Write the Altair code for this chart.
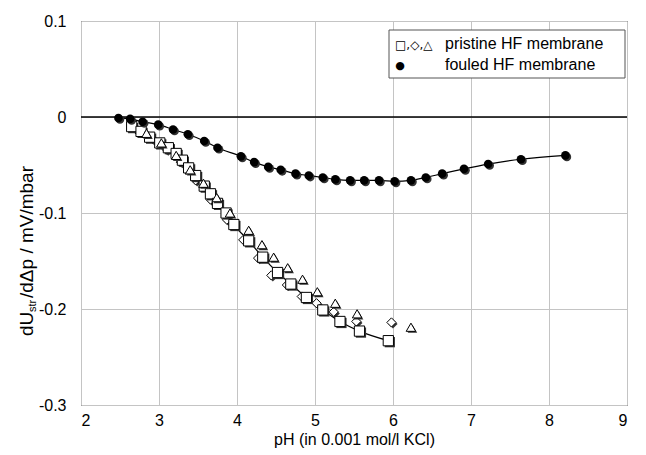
import altair as alt
import pandas as pd

# fouled HF membrane (filled circles)
fouled_ph = [2.48, 2.63, 2.79, 2.99, 3.18, 3.37, 3.58, 3.75, 4.05, 4.22, 4.40, 4.56, 4.75, 4.92,
             5.10, 5.26, 5.45, 5.63, 5.82, 6.02, 6.23, 6.42, 6.63, 6.91, 7.22, 7.64, 8.21]
fouled_val = [-0.001, -0.002, -0.005, -0.008, -0.013, -0.018, -0.025, -0.032, -0.041, -0.047,
              -0.052, -0.055, -0.059, -0.061, -0.063, -0.065, -0.066, -0.066, -0.066, -0.067,
              -0.066, -0.063, -0.059, -0.054, -0.049, -0.044, -0.040]

# pristine HF membrane, squares
sq_ph = [2.65, 2.77, 2.88, 3.01, 3.12, 3.22, 3.30, 3.38, 3.47, 3.58, 3.66, 3.75, 3.86, 3.96,
         4.15, 4.33, 4.52, 4.69, 4.89, 5.10, 5.32, 5.57, 5.94]
sq_val = [-0.010, -0.015, -0.021, -0.027, -0.032, -0.038, -0.045, -0.053, -0.061, -0.072,
          -0.080, -0.090, -0.100, -0.112, -0.129, -0.146, -0.162, -0.174, -0.188, -0.201,
          -0.213, -0.223, -0.233]

# pristine HF membrane, diamonds
dm_ph = [2.73, 2.92, 3.10, 3.28, 3.47, 3.66, 3.87, 4.08, 4.27, 4.44, 4.64, 4.83, 5.02, 5.24,
         5.53, 5.98]
dm_val = [-0.015, -0.023, -0.034, -0.047, -0.066, -0.086, -0.107, -0.128, -0.147, -0.165,
          -0.175, -0.187, -0.194, -0.203, -0.213, -0.214]

# pristine HF membrane, triangles
tr_ph = [2.84, 3.03, 3.22, 3.40, 3.57, 3.74, 3.91, 4.15, 4.32, 4.47, 4.65, 4.84, 5.03, 5.26,
         5.54, 6.23]
tr_val = [-0.017, -0.027, -0.040, -0.055, -0.069, -0.084, -0.100, -0.118, -0.133, -0.146,
          -0.157, -0.169, -0.182, -0.194, -0.205, -0.219]

x_title = "pH (in 0.001 mol/l KCl)"
legend_labels = ["pristine HF membrane", "fouled HF membrane"]
legend_symbols = ["\u25a1,\u25c7,\u25b3", "\u25cf"]

FONT = "Liberation Sans"

fouled = pd.DataFrame({"ph": fouled_ph, "v": fouled_val})
sq = pd.DataFrame({"ph": sq_ph, "v": sq_val})
dm = pd.DataFrame({"ph": dm_ph, "v": dm_val})
tr = pd.DataFrame({"ph": tr_ph, "v": tr_val})

xs = alt.Scale(domain=[2, 9], nice=False, zero=False)
ys = alt.Scale(domain=[-0.3, 0.1], nice=False, zero=False)

X = alt.X("ph:Q", scale=xs, title=x_title,
          axis=alt.Axis(values=[2, 3, 4, 5, 6, 7, 8, 9], labelPadding=7, titlePadding=3))
Y = alt.Y("v:Q", scale=ys, title=None,
          axis=alt.Axis(values=[-0.3, -0.2, -0.1, 0, 0.1], labelPadding=15,
                        labelExpr="datum.value == 0 ? '0' : (datum.value < 0 ? '-' + format(-datum.value, '.1f') : format(datum.value, '.1f'))"))

zero = alt.Chart(pd.DataFrame({"v": [0.0]})).mark_rule(color="black", strokeWidth=1.3).encode(y=Y)

line_f = alt.Chart(fouled).mark_line(color="black", strokeWidth=1.2, interpolate="monotone").encode(x=X, y=Y)
line_s = alt.Chart(sq).mark_line(color="black", strokeWidth=1.2, interpolate="monotone").encode(x=X, y=Y)

def pts(df, shape, size, filled_black=False):
    shadow = alt.Chart(df).mark_point(shape=shape, size=size, filled=True, color="#333333",
                                      opacity=1, xOffset=1.5, yOffset=1.5).encode(x=X, y=Y)
    if filled_black:
        main = alt.Chart(df).mark_point(shape=shape, size=size, filled=True, color="black",
                                        opacity=1).encode(x=X, y=Y)
    else:
        main = alt.Chart(df).mark_point(shape=shape, size=size, filled=False, fill="white",
                                        stroke="black", strokeWidth=1, opacity=1,
                                        fillOpacity=1).encode(x=X, y=Y)
    return [shadow, main]

layers = [zero, line_f, line_s]
layers += pts(dm, "diamond", 85)
layers += pts(sq, "square", 105)
layers += pts(tr, "triangle-up", 90)
layers += pts(fouled, "circle", 75, filled_black=True)

one = pd.DataFrame({"a": [0]})
leg_box = alt.Chart(one).mark_rect(fill="white", stroke="#555555", strokeWidth=1).encode(
    x=alt.value(308), x2=alt.value(544), y=alt.value(9), y2=alt.value(57))
leg_t1 = alt.Chart(one).mark_text(text=legend_labels[0], font=FONT, fontSize=16, align="left",
                                  baseline="middle", color="black").encode(x=alt.value(364), y=alt.value(23))
leg_t2 = alt.Chart(one).mark_text(text=legend_labels[1], font=FONT, fontSize=16, align="left",
                                  baseline="middle", color="black").encode(x=alt.value(364), y=alt.value(44))
leg_s1 = alt.Chart(one).mark_text(text=legend_symbols[0], font="DejaVu Sans", fontSize=12, align="left",
                                  baseline="middle", color="black").encode(x=alt.value(314), y=alt.value(24))
leg_s2 = alt.Chart(one).mark_text(text=legend_symbols[1], font="DejaVu Sans", fontSize=11, align="center",
                                  baseline="middle", color="black").encode(x=alt.value(319), y=alt.value(45))

# y axis title with subscript
yt1 = alt.Chart(one).mark_text(text="dU", font=FONT, fontSize=19, angle=270, align="left",
                               baseline="middle", color="black").encode(x=alt.value(-54), y=alt.value(315))
yt2 = alt.Chart(one).mark_text(text="str", font=FONT, fontSize=11, angle=270, align="left",
                               baseline="middle", color="black").encode(x=alt.value(-48), y=alt.value(291))
yt3 = alt.Chart(one).mark_text(text="/d\u0394p  /  mV/mbar", font=FONT, fontSize=19, angle=270, align="left",
                               baseline="middle", color="black").encode(x=alt.value(-54), y=alt.value(277))

layers += [leg_box, leg_t1, leg_t2, leg_s1, leg_s2, yt1, yt2, yt3]

chart = alt.layer(*layers).properties(
    width=546, height=384,
    background="white",
    autosize=alt.AutoSizeParams(type="none"),
    padding={"left": 73, "top": 13, "right": 10, "bottom": 46},
).configure_view(stroke="black", strokeWidth=1).configure_axis(
    labelFont=FONT, labelFontSize=16, labelColor="black",
    titleFont=FONT, titleFontSize=16, titleFontWeight="normal", titleColor="black",
    domain=False, ticks=False, grid=True, gridColor="#c4c4c4", gridWidth=1,
)

chart.save("out.html", embed_options={"renderer": "svg", "actions": False})
